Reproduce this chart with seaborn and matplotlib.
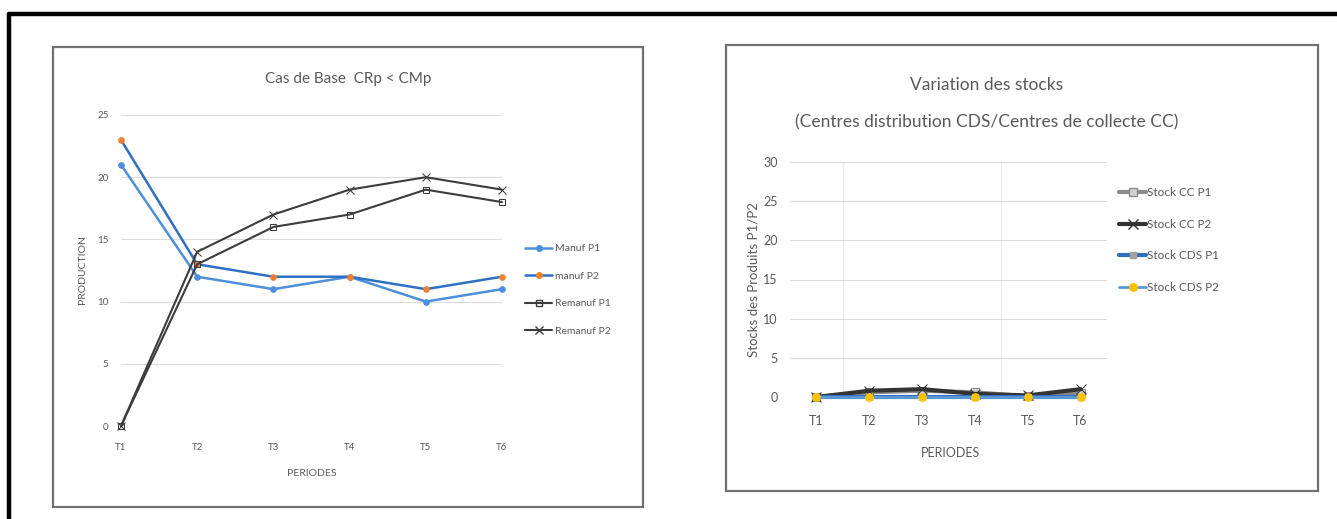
import matplotlib
matplotlib.use("Agg")
import matplotlib.pyplot as plt
import pandas as pd
import seaborn as sns
from matplotlib.lines import Line2D
from matplotlib.patches import Rectangle

PERIODS = ["T1", "T2", "T3", "T4", "T5", "T6"]

# left chart: production
MANUF_P1 = [21, 12, 11, 12, 10, 11]
MANUF_P2 = [23, 13, 12, 12, 11, 12]
REMANUF_P1 = [0, 13, 16, 17, 19, 18]
REMANUF_P2 = [0, 14, 17, 19, 20, 19]

# right chart: stocks
STOCK_CC_P1 = [0, 0.6, 0.8, 0.6, 0.1, 0.5]
STOCK_CC_P2 = [0, 0.8, 1.0, 0.4, 0.2, 1.0]
STOCK_CDS_P1 = [0, 0, 0, 0, 0, 0]
STOCK_CDS_P2 = [0, 0, 0, 0, 0, 0]

W, H = 1337, 519
TEXT = "#595959"
GRID = "#dcdcdc"


def fx(px):
    return px / W


def fy(py):
    return 1 - py / H


def _series_frame(series: dict) -> pd.DataFrame:
    rows = []
    for name, values in series.items():
        for i, v in enumerate(values):
            rows.append({"serie": name, "pos": i, "value": v})
    return pd.DataFrame(rows)


def _style_axes(ax, ymax, tick_size, xpad, ypad):
    ax.set_ylim(0, ymax)
    ax.set_yticks(range(0, ymax + 1, 5))
    ax.set_xticks(range(len(PERIODS)))
    ax.set_xticklabels(PERIODS)
    ax.grid(axis="y", color=GRID, linewidth=0.8)
    ax.grid(axis="x", visible=False)
    for side in ["top", "right", "left", "bottom"]:
        ax.spines[side].set_visible(False)
    ax.tick_params(axis="both", length=0, labelsize=tick_size, colors=TEXT)
    ax.tick_params(axis="x", pad=xpad)
    ax.tick_params(axis="y", pad=ypad)
    ax.set_xlabel("")
    ax.set_ylabel("")
    ax.set_facecolor("none")


def draw_production(fig):
    ax = fig.add_axes([fx(121), fy(426), fx(502 - 121), (426 - 115) / H])
    frame = _series_frame({
        "Manuf P1": MANUF_P1,
        "manuf P2": MANUF_P2,
        "Remanuf P1": REMANUF_P1,
        "Remanuf P2": REMANUF_P2,
    })
    styles = {
        "Manuf P1": dict(color="#4d8fdb", marker="o", markersize=4, mfc="#4d8fdb", mec="#4d8fdb", lw=1.8),
        "manuf P2": dict(color="#2f6fc4", marker="o", markersize=4, mfc="#f08030", mec="#f08030", lw=1.8),
        "Remanuf P1": dict(color="#3c3c3c", marker="s", markersize=4.5, mfc="none", mec="#3c3c3c", lw=1.5),
        "Remanuf P2": dict(color="#3c3c3c", marker="x", markersize=6, mfc="#3c3c3c", mec="#3c3c3c", lw=1.5),
    }
    handles = []
    for name, st in styles.items():
        sub = frame[frame["serie"] == name]
        sns.lineplot(data=sub, x="pos", y="value", ax=ax, color=st["color"], marker=st["marker"],
                     markersize=st["markersize"], markerfacecolor=st["mfc"], markeredgecolor=st["mec"],
                     linewidth=st["lw"], clip_on=False, zorder=3)
        handles.append(Line2D([], [], color=st["color"], marker=st["marker"], markersize=st["markersize"],
                              markerfacecolor=st["mfc"], markeredgecolor=st["mec"], linewidth=st["lw"]))
    ax.set_xlim(0, len(PERIODS) - 1)
    _style_axes(ax, 25, 7, 12, 9)
    ax.legend(handles, list(styles), loc="upper left", bbox_to_anchor=(fx(525), fy(244)),
              bbox_transform=fig.transFigure, frameon=False, fontsize=7.5, handlelength=2.6,
              handletextpad=0.3, labelspacing=1.75, labelcolor=TEXT, borderaxespad=0, borderpad=0)
    fig.text(fx(348), fy(79), "Cas de Base  CRp < CMp", ha="center", va="center", fontsize=11, color=TEXT)
    fig.text(fx(83), fy(270), "PRODUCTION", ha="center", va="center", rotation=90, fontsize=7.5, color=TEXT)
    fig.text(fx(312), fy(473), "PERIODES", ha="center", va="center", fontsize=7.5, color=TEXT)


def draw_stocks(fig):
    ax = fig.add_axes([fx(790), fy(397), fx(1107 - 790), (397 - 162) / H])
    frame = _series_frame({
        "Stock CC P1": STOCK_CC_P1,
        "Stock CC P2": STOCK_CC_P2,
        "Stock CDS P1": STOCK_CDS_P1,
        "Stock CDS P2": STOCK_CDS_P2,
    })
    styles = {
        "Stock CC P1": dict(color="#8a8a8a", marker="s", markersize=6, mfc="#d0d0d0", mec="#8a8a8a", lw=3),
        "Stock CC P2": dict(color="#333333", marker="x", markersize=7, mfc="#333333", mec="#333333", lw=3),
        "Stock CDS P1": dict(color="#2e6fc0", marker="s", markersize=5, mfc="#a0a0a0", mec="#a0a0a0", lw=3),
        "Stock CDS P2": dict(color="#5b9bd5", marker="o", markersize=5.5, mfc="#ffc000", mec="#ffc000", lw=2),
    }
    handles = []
    for name, st in styles.items():
        sub = frame[frame["serie"] == name]
        sns.lineplot(data=sub, x="pos", y="value", ax=ax, color=st["color"], marker=st["marker"],
                     markersize=st["markersize"], markerfacecolor=st["mfc"], markeredgecolor=st["mec"],
                     linewidth=st["lw"], clip_on=False, zorder=3)
        handles.append(Line2D([], [], color=st["color"], marker=st["marker"], markersize=st["markersize"],
                              markerfacecolor=st["mfc"], markeredgecolor=st["mec"], linewidth=st["lw"]))
    ax.set_xlim(-0.5, len(PERIODS) - 0.5)
    _style_axes(ax, 30, 9, 13, 9)
    for boundary in (0.5, 3.5):
        ax.axvline(boundary, color="#ececec", linewidth=0.8, zorder=0)
    ax.legend(handles, list(styles), loc="upper left", bbox_to_anchor=(fx(1119), fy(187)),
              bbox_transform=fig.transFigure, frameon=False, fontsize=8.5, handlelength=2.3,
              handletextpad=0.05, labelspacing=1.75, labelcolor=TEXT, borderaxespad=0, borderpad=0)
    fig.text(fx(987), fy(85), "Variation des stocks", ha="center", va="center", fontsize=12.5, color=TEXT)
    fig.text(fx(987), fy(122), "(Centres distribution CDS/Centres de collecte CC)", ha="center", va="center",
             fontsize=12.5, color=TEXT)
    fig.text(fx(753), fy(280), "Stocks des Produits P1/P2", ha="center", va="center", rotation=90,
             fontsize=9.5, color=TEXT)
    fig.text(fx(950), fy(453), "PERIODES", ha="center", va="center", fontsize=9, color=TEXT)


def draw_frames(fig):
    fig.add_artist(Rectangle((fx(53), fy(507)), fx(643 - 53), (507 - 47) / H, transform=fig.transFigure,
                             fill=False, edgecolor="#707070", linewidth=1.6))
    fig.add_artist(Rectangle((fx(726), fy(491)), fx(1318 - 726), (491 - 45) / H, transform=fig.transFigure,
                             fill=False, edgecolor="#707070", linewidth=1.6))
    fig.add_artist(Line2D([fx(9), fx(9)], [fy(14), 0], transform=fig.transFigure, color="black", linewidth=3.2))
    fig.add_artist(Line2D([fx(9), 1], [fy(14), fy(14)], transform=fig.transFigure, color="black", linewidth=3.2))


def main() -> None:
    sns.set_theme(style="white")
    plt.rcParams["font.family"] = ["Lato", "DejaVu Sans"]
    fig = plt.figure(figsize=(W / 100, H / 100), dpi=100)
    fig.patch.set_facecolor("white")
    draw_production(fig)
    draw_stocks(fig)
    draw_frames(fig)
    fig.savefig("out.png", dpi=100)
    plt.close(fig)


if __name__ == "__main__":
    main()
